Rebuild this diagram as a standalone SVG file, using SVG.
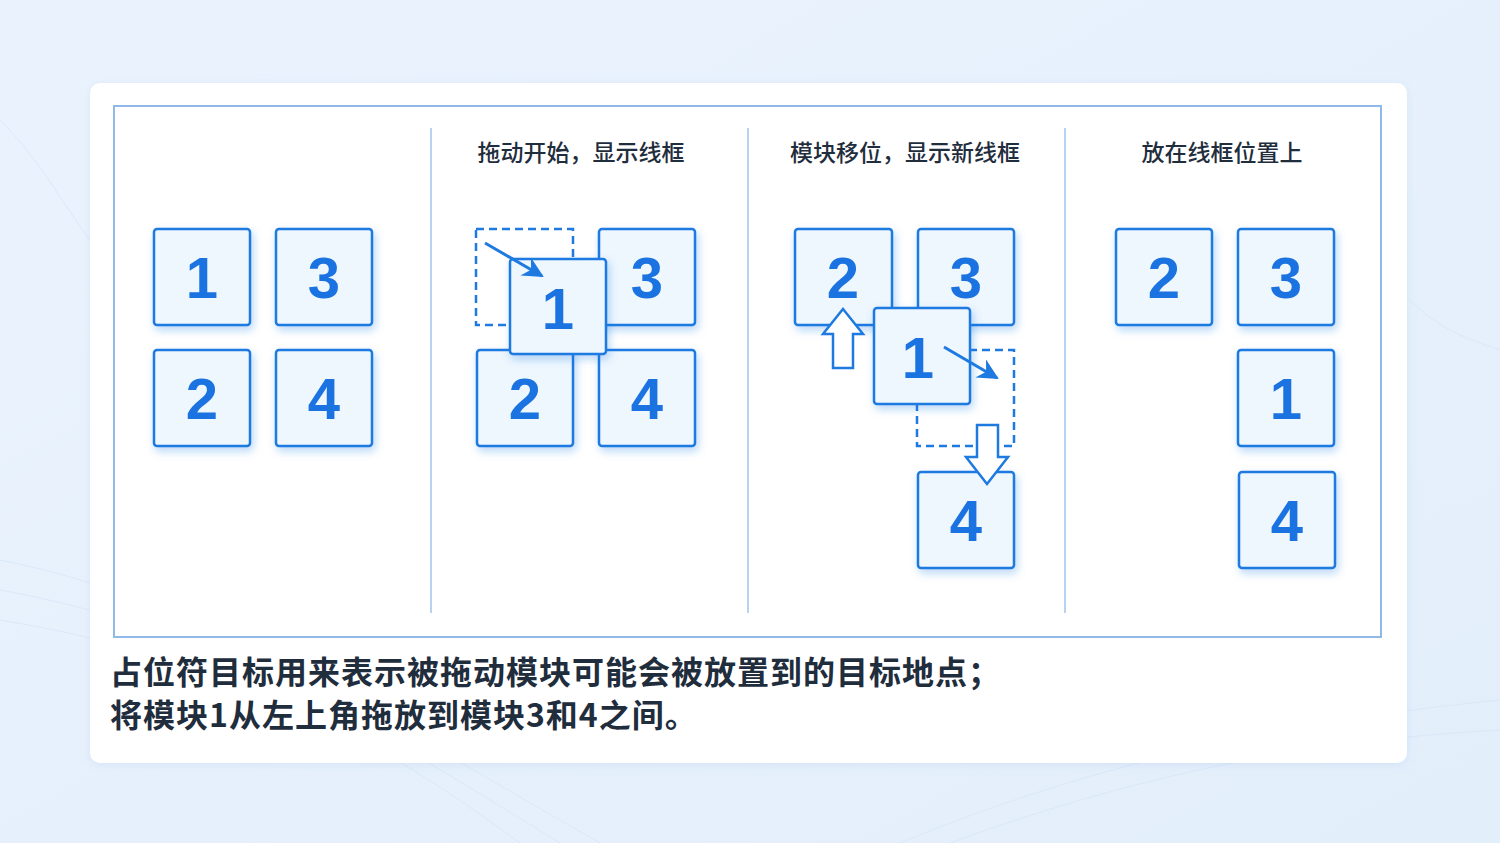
<svg xmlns="http://www.w3.org/2000/svg" width="1500" height="843" viewBox="0 0 1500 843">
<defs>
<linearGradient id="bg" x1="0" y1="0" x2="1" y2="1">
<stop offset="0" stop-color="#eaf3fd"/>
<stop offset="1" stop-color="#e3eefb"/>
</linearGradient>
<filter id="sh" x="-30%" y="-30%" width="160%" height="160%">
<feDropShadow dx="2" dy="4" stdDeviation="4" flood-color="#1e7ae0" flood-opacity="0.3"/>
</filter>
<filter id="cs" x="-5%" y="-5%" width="110%" height="110%">
<feDropShadow dx="0" dy="2" stdDeviation="4" flood-color="#9fbfe6" flood-opacity="0.25"/>
</filter>
<marker id="ah" viewBox="0 0 10 10" refX="9" refY="5" markerWidth="7" markerHeight="7" orient="auto" markerUnits="strokeWidth">
<path d="M0,0 L10,5 L0,10 L3,5 z" fill="#1e7ae0"/>
</marker>
<style>
.box{fill:#eef6fe;stroke:#1e7ae0;stroke-width:2.5;filter:url(#sh)}
.dash{fill:none;stroke:#1e7ae0;stroke-width:2.5;stroke-dasharray:8 5}
.num{font-family:"Liberation Sans",Arial,sans-serif;font-size:58px;font-weight:700;fill:#1a73e0;text-anchor:middle}
.ttl{font-family:"Noto Sans CJK SC","Noto Sans",sans-serif;font-size:23px;fill:#1f2d3d;text-anchor:middle;font-weight:500}
.cap{font-family:"Noto Sans CJK SC","Noto Sans",sans-serif;font-size:32px;letter-spacing:1px;fill:#1f2d3d;font-weight:700}
.div{stroke:#b8d3f0;stroke-width:2}
.hol{fill:#ffffff;stroke:#1e7ae0;stroke-width:2.5;stroke-linejoin:miter}
.arr{stroke:#1e7ae0;stroke-width:3;fill:none}
</style>
</defs>
<rect x="0" y="0" width="1500" height="843" fill="url(#bg)"/>
<g fill="none" stroke="#d5e4f5" stroke-width="1" opacity="0.7">
<path d="M0,560 C200,600 350,700 600,843"/>
<path d="M0,590 C220,630 360,720 560,843"/>
<path d="M0,620 C240,660 380,740 520,843"/>
<path d="M900,843 C1100,760 1300,720 1500,700"/>
<path d="M950,843 C1150,770 1320,740 1500,730"/>
<path d="M0,120 C40,160 60,200 90,240"/>
<path d="M1410,300 C1440,330 1470,340 1500,350"/>
</g>
<rect id="card" x="90" y="83" width="1317" height="680" rx="10" fill="#ffffff" filter="url(#cs)"/>
<rect id="frame" x="114" y="106" width="1267" height="531" fill="none" stroke="#8fb9e8" stroke-width="2"/>
<g id="dividers">
<line class="div" x1="431" y1="128" x2="431" y2="613"/>
<line class="div" x1="748" y1="128" x2="748" y2="613"/>
<line class="div" x1="1065" y1="128" x2="1065" y2="613"/>
</g>
<g id="titles">
<text class="ttl" x="581" y="161">拖动开始，显示线框</text>
<text class="ttl" x="905" y="161">模块移位，显示新线框</text>
<text class="ttl" x="1222" y="161">放在线框位置上</text>
</g>
<g id="p1">
<g id="p1-b1"><rect class="box" x="154" y="229" width="96" height="96" rx="3"/><text class="num" x="202" y="298">1</text></g>
<g id="p1-b3"><rect class="box" x="276" y="229" width="96" height="96" rx="3"/><text class="num" x="324" y="298">3</text></g>
<g id="p1-b2"><rect class="box" x="154" y="350" width="96" height="96" rx="3"/><text class="num" x="202" y="419">2</text></g>
<g id="p1-b4"><rect class="box" x="276" y="350" width="96" height="96" rx="3"/><text class="num" x="324" y="419">4</text></g>
</g>
<g id="p2">
<g id="p2-ph"><rect class="dash" x="476" y="229" width="97" height="96"/></g>
<g id="p2-b3"><rect class="box" x="599" y="229" width="96" height="96" rx="3"/><text class="num" x="647" y="298">3</text></g>
<g id="p2-b2"><rect class="box" x="477" y="350" width="96" height="96" rx="3"/><text class="num" x="525" y="419">2</text></g>
<g id="p2-b4"><rect class="box" x="599" y="350" width="96" height="96" rx="3"/><text class="num" x="647" y="419">4</text></g>
<g id="p2-b1"><rect class="box" x="510" y="259" width="96" height="95" rx="3"/><text class="num" x="558" y="329">1</text></g>
</g>
<g id="p3">
<g id="p3-b2"><rect class="box" x="795" y="229" width="97" height="96" rx="3"/><text class="num" x="843" y="298">2</text></g>
<g id="p3-b3"><rect class="box" x="918" y="229" width="96" height="96" rx="3"/><text class="num" x="966" y="298">3</text></g>
<g id="p3-ph"><rect class="dash" x="917" y="350" width="97" height="96"/></g>
<g id="p3-b4"><rect class="box" x="918" y="472" width="96" height="96" rx="3"/><text class="num" x="966" y="541">4</text></g>
<g id="p3-up"><path class="hol" d="M843,309 L863,334 L853,334 L853,368 L833,368 L833,334 L823,334 Z"/></g>
<g id="p3-b1"><rect class="box" x="874" y="308" width="96" height="96" rx="3"/><text class="num" x="918" y="378">1</text></g>
<g id="p3-down"><path class="hol" d="M977,425 L998,425 L998,457 L1008,457 L987,484 L966,457 L977,457 Z"/></g>
</g>
<g id="p4">
<g id="p4-b2"><rect class="box" x="1116" y="229" width="96" height="96" rx="3"/><text class="num" x="1164" y="298">2</text></g>
<g id="p4-b3"><rect class="box" x="1238" y="229" width="96" height="96" rx="3"/><text class="num" x="1286" y="298">3</text></g>
<g id="p4-b1"><rect class="box" x="1238" y="350" width="96" height="96" rx="3"/><text class="num" x="1286" y="419">1</text></g>
<g id="p4-b4"><rect class="box" x="1239" y="472" width="96" height="96" rx="3"/><text class="num" x="1287" y="541">4</text></g>
</g>
<g id="connectors">
<line class="arr" x1="485" y1="243" x2="542" y2="276" marker-end="url(#ah)"/>
<line class="arr" x1="944" y1="347" x2="997" y2="378" marker-end="url(#ah)"/>
</g>
<g id="caption">
<text class="cap" x="110" y="684">占位符目标用来表示被拖动模块可能会被放置到的目标地点；</text>
<text class="cap" x="110" y="727">将模块1从左上角拖放到模块3和4之间。</text>
</g>
</svg>
